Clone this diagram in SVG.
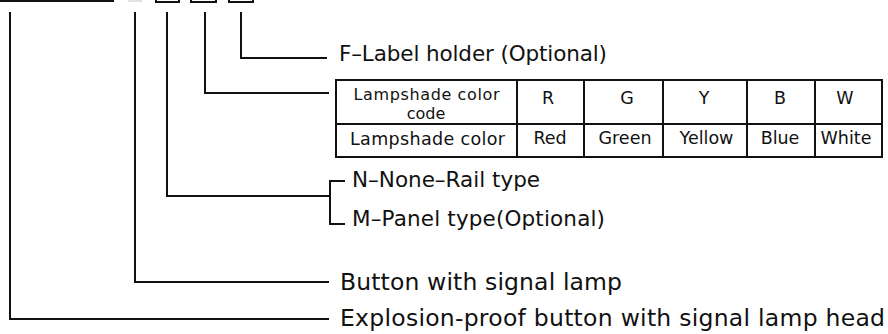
<svg xmlns="http://www.w3.org/2000/svg" width="888" height="334" viewBox="0 0 888 334">
<style>
.ln{fill:none;stroke:#111;stroke-width:2;stroke-linecap:square;stroke-linejoin:miter}
.lbl{font-family:"DejaVu Sans",Verdana,sans-serif;fill:#111;font-size:21.5px}
.big{font-family:"DejaVu Sans",Verdana,sans-serif;fill:#111;font-size:23.5px}
.tb{font-family:"DejaVu Sans",Verdana,sans-serif;fill:#111;font-size:17.5px;text-anchor:middle}
.tbs{font-size:16px}
.cell{fill:#fff;stroke:#111;stroke-width:2}
</style>
<rect width="888" height="334" fill="#fff"/>
<g id="code-header">
<line class="ln" x1="0" y1="1" x2="113" y2="1"/>
<line x1="128" y1="1" x2="142" y2="1" stroke="#e2e2e2" stroke-width="2"/>
<rect class="cell" x="156" y="-12" width="23" height="14"/>
<rect class="cell" x="191" y="-12" width="25" height="14"/>
<rect class="cell" x="229" y="-12" width="24" height="14"/>
</g>
<g id="connectors">
<polyline class="ln" points="241,13 241,58 326,58"/>
<polyline class="ln" points="205,13 205,93 328,93"/>
<polyline class="ln" points="167,13 167,196 330,196"/>
<polyline class="ln" points="344,181 330,181 330,224 344,224"/>
<polyline class="ln" points="135,13 135,282 328,282"/>
<polyline class="ln" points="10,13 10,319 328,319"/>
</g>
<g id="label-holder">
<text class="lbl" x="339" y="61" textLength="268">F–Label holder (Optional)</text>
</g>
<g id="lampshade-table">
<rect class="cell" x="336" y="80" width="546" height="77"/>
<line class="ln" x1="336" y1="124" x2="882" y2="124"/>
<line class="ln" x1="517" y1="80" x2="517" y2="157"/>
<line class="ln" x1="584" y1="80" x2="584" y2="157"/>
<line class="ln" x1="663" y1="80" x2="663" y2="157"/>
<line class="ln" x1="747" y1="80" x2="747" y2="157"/>
<line class="ln" x1="815" y1="80" x2="815" y2="157"/>
<text class="tb tbs" x="426.5" y="99.5" textLength="146">Lampshade color</text>
<text class="tb tbs" x="426" y="118.5">code</text>
<text class="tb" x="548" y="103.5">R</text>
<text class="tb" x="627" y="103.5">G</text>
<text class="tb" x="704" y="103.5">Y</text>
<text class="tb" x="780" y="103.5">B</text>
<text class="tb" x="845" y="103.5">W</text>
<text class="tb" x="427.5" y="144.5" textLength="155">Lampshade color</text>
<text class="tb" x="550" y="144">Red</text>
<text class="tb" x="625" y="144">Green</text>
<text class="tb" x="706.5" y="144">Yellow</text>
<text class="tb" x="780" y="144">Blue</text>
<text class="tb" x="846" y="144">White</text>
</g>
<g id="rail-type">
<text class="lbl" x="352" y="187" textLength="188">N–None–Rail type</text>
<text class="lbl" x="352" y="226" textLength="253">M–Panel type(Optional)</text>
</g>
<g id="button-lamp">
<text class="big" x="340" y="289.5" textLength="282">Button with signal lamp</text>
</g>
<g id="explosion-head">
<text class="big" x="340" y="326" textLength="545">Explosion-proof button with signal lamp head</text>
</g>
</svg>
